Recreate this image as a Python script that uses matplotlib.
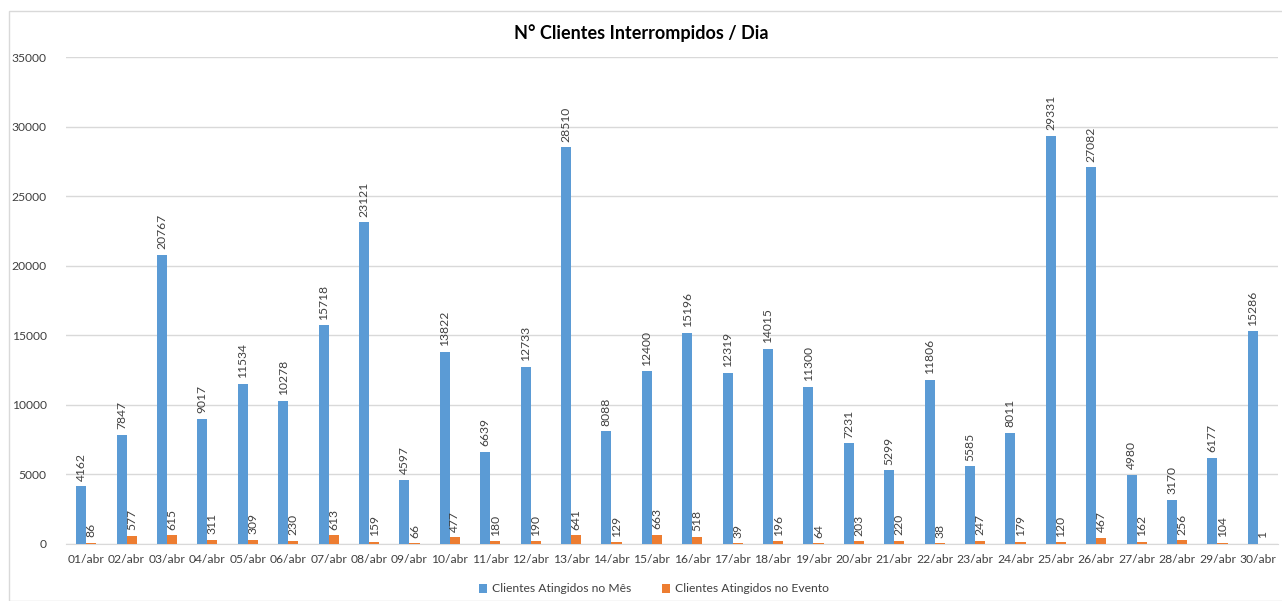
import numpy as np
import matplotlib.pyplot as plt
from matplotlib.patches import Rectangle

dias = [f'{d:02d}/abr' for d in range(1, 31)]
clientes_mes = [4162, 7847, 20767, 9017, 11534, 10278, 15718, 23121, 4597, 13822,
                6639, 12733, 28510, 8088, 12400, 15196, 12319, 14015, 11300, 7231,
                5299, 11806, 5585, 8011, 29331, 27082, 4980, 3170, 6177, 15286]
clientes_evento = [86, 577, 615, 311, 309, 230, 613, 159, 66, 477,
                   180, 190, 641, 129, 663, 518, 39, 196, 64, 203,
                   220, 38, 247, 179, 120, 467, 162, 256, 104, 1]

plt.rcParams['font.family'] = ['Lato', 'DejaVu Sans']

azul = '#5B9BD5'
laranja = '#ED7D31'
cinza_txt = '#404040'
fs = 8.7

fig = plt.figure(figsize=(12.82, 6.01), dpi=100)
ax = fig.add_axes([66 / 1282, 1 - 544 / 601, (1278 - 66) / 1282, (544 - 57) / 601])

x = np.arange(len(dias))
w = 0.25
b1 = ax.bar(x - w / 2, clientes_mes, w, color=azul, label='Clientes Atingidos no Mês', zorder=3)
b2 = ax.bar(x + w / 2, clientes_evento, w, color=laranja, label='Clientes Atingidos no Evento', zorder=3)

ax.bar_label(b1, padding=4, rotation=90, fontsize=fs, color=cinza_txt)
ax.bar_label(b2, padding=4, rotation=90, fontsize=fs, color=cinza_txt)

ax.set_xlim(-0.5, len(dias) - 0.5)
ax.set_ylim(0, 35000)
ax.set_yticks(np.arange(0, 35001, 5000))
ax.set_xticks(x)
ax.set_xticklabels(dias)
ax.tick_params(axis='both', length=0, labelsize=fs, colors='#404040')
ax.tick_params(axis='y', pad=14)
ax.tick_params(axis='x', pad=7)
ax.grid(axis='y', color='#D9D9D9', linewidth=1, zorder=0)
for s in ['top', 'right', 'left']:
    ax.spines[s].set_visible(False)
ax.spines['bottom'].set_color('#D9D9D9')

fig.text(0.5, 1 - 33 / 601, 'N° Clientes Interrompidos / Dia', ha='center', va='center',
         fontsize=13, fontweight='bold', color='#000000')

fig.legend(loc='center', bbox_to_anchor=(0.51, 1 - 589 / 601), ncol=2, frameon=False,
           fontsize=fs, handlelength=0.7, handleheight=0.7, columnspacing=2.5, handletextpad=0.4,
           labelcolor='#404040')

fig.patches.append(Rectangle((9 / 1282, 0), 1, 1 - 11 / 601, transform=fig.transFigure,
                             fill=False, edgecolor='#D9D9D9', linewidth=1))

plt.savefig('out.png', dpi=100)
